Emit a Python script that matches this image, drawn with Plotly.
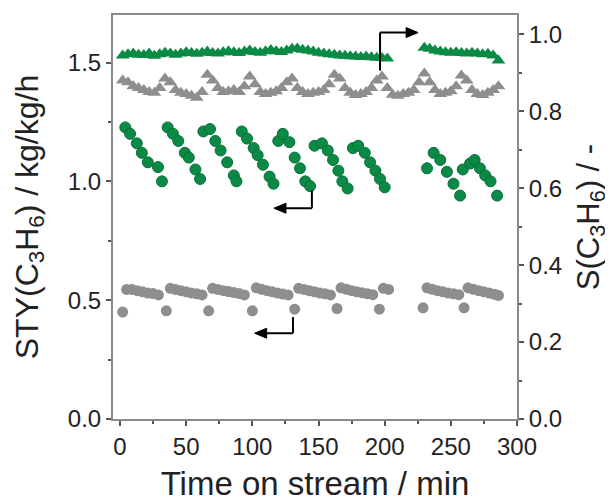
import plotly.graph_objects as go

# ---- data -------------------------------------------------------------
# S(C3H6), green triangles (right axis)
sg_t1 = [2, 6, 10, 14, 18, 22, 26, 30, 34, 38, 42, 46, 50, 54, 58, 62, 66, 70, 74, 78,
         82, 86, 90, 94, 98, 102, 106, 110, 114, 118, 122, 126, 130, 134, 138, 142, 146,
         150, 154, 158, 162, 166, 170, 174, 178, 182, 186, 190, 194, 198, 202]
sg_v1 = [0.945, 0.948, 0.950, 0.947, 0.946, 0.950, 0.944, 0.948, 0.952, 0.950,
         0.947, 0.950, 0.953, 0.951, 0.949, 0.952, 0.955, 0.951, 0.950, 0.953,
         0.956, 0.953, 0.951, 0.955, 0.958, 0.954, 0.952, 0.956, 0.959, 0.956,
         0.954, 0.958, 0.962, 0.963, 0.960, 0.958, 0.955, 0.952, 0.950, 0.948,
         0.947, 0.945, 0.944, 0.943, 0.942, 0.941, 0.942, 0.940, 0.939, 0.938, 0.937]
sg_t2 = [230, 234, 238, 242, 246, 250, 254, 258, 262, 266, 270, 274, 278, 282, 286]
sg_v2 = [0.965, 0.962, 0.958, 0.955, 0.953, 0.952, 0.953, 0.951, 0.950, 0.952,
         0.950, 0.948, 0.949, 0.945, 0.932]

# S(C3H6), grey triangles (right axis)
sr_t = [2, 6, 10, 14, 18, 22, 26, 30, 34, 38, 42, 46, 50, 54, 58, 62, 66, 70, 74, 78,
        82, 86, 90, 94, 98, 102, 106, 110, 114, 118, 122, 126, 130, 134, 138, 142, 146,
        150, 154, 158, 162, 166, 170, 174, 178, 182, 186, 190, 194, 198, 202, 206, 210,
        214, 218, 222, 226, 230, 234, 238, 242, 246, 250, 254, 258, 262, 266, 270, 274,
        278, 282, 286]
sr_v = [0.880, 0.875, 0.865, 0.860, 0.855, 0.850, 0.848, 0.860, 0.885, 0.875,
        0.855, 0.848, 0.845, 0.840, 0.835, 0.850, 0.895, 0.880, 0.860, 0.850,
        0.852, 0.855, 0.850, 0.865, 0.890, 0.870, 0.850, 0.845, 0.848, 0.852,
        0.860, 0.875, 0.885, 0.860, 0.850, 0.845, 0.848, 0.850, 0.855, 0.870,
        0.895, 0.885, 0.860, 0.848, 0.842, 0.845, 0.850, 0.860, 0.880, 0.890,
        0.860, 0.843, 0.840, 0.845, 0.848, 0.855, 0.875, 0.898, 0.875, 0.855,
        0.845, 0.848, 0.852, 0.865, 0.893, 0.880, 0.855, 0.845, 0.842, 0.848,
        0.855, 0.865]

# STY(C3H6), green circles (left axis)
yg_t = [4, 7.6, 12.7, 16.5, 21, 28.7, 31.7,
        36, 40, 44, 49, 52, 57, 60.5,
        63, 68, 72, 76, 81, 86, 88,
        92, 96, 101, 104, 108, 113, 116,
        119.6, 123, 128, 132, 136, 140, 143.6,
        147, 152.6, 157, 161, 165, 168, 172,
        176, 180, 185, 189, 193, 196.5, 200,
        232, 237, 242, 247, 252, 257,
        259, 264.5, 268, 272, 276, 280, 285]
yg_v = [1.227, 1.20, 1.16, 1.12, 1.08, 1.06, 1.00,
        1.227, 1.20, 1.17, 1.12, 1.10, 1.05, 1.01,
        1.21, 1.22, 1.17, 1.13, 1.08, 1.025, 1.00,
        1.21, 1.18, 1.14, 1.11, 1.07, 1.02, 0.99,
        1.17, 1.20, 1.165, 1.10, 1.055, 1.00, 0.98,
        1.15, 1.16, 1.13, 1.09, 1.045, 1.00, 0.97,
        1.14, 1.15, 1.12, 1.08, 1.045, 1.01, 0.975,
        1.055, 1.12, 1.09, 1.04, 0.99, 0.94,
        1.05, 1.075, 1.09, 1.055, 1.025, 1.00, 0.94]

# STY(C3H6), grey circles (left axis)
yr_t = [2, 5, 9, 13, 17, 21, 25, 29,
        35, 38, 42, 46, 50, 54, 58, 62,
        67, 70, 74, 78, 82, 86, 90, 94,
        100, 103, 107, 111, 115, 119, 123, 127,
        132, 135, 139, 143, 147, 151, 155, 159,
        164, 167, 171, 175, 179, 183, 187, 191,
        196, 199, 203,
        229, 232, 236, 240, 244, 248, 252, 256,
        260, 263, 267, 271, 275, 279, 283, 286]
yr_v = [0.450, 0.545, 0.545, 0.540, 0.535, 0.530, 0.528, 0.522,
        0.455, 0.550, 0.545, 0.540, 0.535, 0.530, 0.527, 0.522,
        0.455, 0.550, 0.545, 0.540, 0.536, 0.532, 0.528, 0.522,
        0.455, 0.552, 0.546, 0.540, 0.535, 0.530, 0.526, 0.522,
        0.462, 0.550, 0.545, 0.540, 0.535, 0.530, 0.527, 0.522,
        0.465, 0.552, 0.546, 0.540, 0.535, 0.531, 0.527, 0.523,
        0.462, 0.550, 0.545,
        0.468, 0.552, 0.546, 0.540, 0.535, 0.530, 0.527, 0.523,
        0.468, 0.552, 0.546, 0.540, 0.535, 0.530, 0.525, 0.520]

# L-shaped pointer arrows: (x corner, y start, y corner, x head) in left-axis units
arrows = [(196.5, 1.466, 1.626, 223.0),
          (145.0, 0.962, 0.887, 118.6),
          (130.7, 0.429, 0.361, 104.0)]

GREEN = '#0a8a45'
GREY = '#8e8e8e'
FONT = 'Liberation Sans, Arial, sans-serif'

fig = go.Figure()

fig.add_trace(go.Scatter(x=yr_t, y=yr_v, mode='markers',
                         marker=dict(symbol='circle', size=11, color=GREY)))
fig.add_trace(go.Scatter(x=yg_t, y=yg_v, mode='markers',
                         marker=dict(symbol='circle', size=11, color=GREEN,
                                     line=dict(color='#06703a', width=1))))
fig.add_trace(go.Scatter(x=sr_t, y=sr_v, mode='markers', yaxis='y2',
                         marker=dict(symbol='triangle-up', size=12, color=GREY)))
fig.add_trace(go.Scatter(x=sg_t1 + sg_t2, y=sg_v1 + sg_v2, mode='markers', yaxis='y2',
                         marker=dict(symbol='triangle-up', size=12, color=GREEN)))

shapes = []
for xc, y0, y1, xh in arrows:
    shapes.append(dict(type='line', xref='x', yref='y', x0=xc, x1=xc, y0=y0, y1=y1,
                       line=dict(color='black', width=2)))
    shapes.append(dict(type='line', xref='x', yref='y', x0=xc, x1=xh, y0=y1, y1=y1,
                       line=dict(color='black', width=2)))
    d = 1 if xh > xc else -1
    shapes.append(dict(type='path', xref='x', yref='y', xsizemode='pixel',
                       ysizemode='pixel', xanchor=xh, yanchor=y1,
                       path=f'M{3 * d},0 L{-9 * d},5 L{-9 * d},-5 Z',
                       fillcolor='black', line=dict(color='black', width=1)))

axis_common = dict(showline=True, linecolor='#8a8a8a', linewidth=2, showgrid=False,
                   zeroline=False, ticks='outside', ticklen=5, tickwidth=1.5,
                   automargin=False,
                   tickcolor='#555', tickfont=dict(family=FONT, size=24, color='#222'))

# the page body adds an 8px offset, so the figure is 8px smaller and shifted
fig.update_layout(
    width=605, height=494,
    margin=dict(l=105, r=96, t=7, b=83),
    plot_bgcolor='white', paper_bgcolor='white',
    showlegend=False,
    shapes=shapes,
    xaxis=dict(range=[-5.3, 300], tickvals=[0, 50, 100, 150, 200, 250, 300],
               mirror=True,
               minor=dict(ticks='outside', ticklen=3, dtick=25, tick0=0, tickcolor='#555'),
               title=dict(text='Time on stream / min', standoff=24,
                          font=dict(family=FONT, size=33, color='#222')),
               **axis_common),
    yaxis=dict(range=[0, 1.7], tickvals=[0, 0.5, 1.0, 1.5], tickformat='.1f',
               minor=dict(ticks='outside', ticklen=3, dtick=0.25, tick0=0, tickcolor='#555'),
               title=dict(text='STY(C<sub>3</sub>H<sub>6</sub>) / kg/kg/h', standoff=20,
                          font=dict(family=FONT, size=32, color='#222')),
               **axis_common),
    yaxis2=dict(range=[0, 1.05], overlaying='y', side='right', anchor='x',
                tickvals=[0, 0.2, 0.4, 0.6, 0.8, 1.0], tickformat='.1f',
                minor=dict(ticks='outside', ticklen=3, dtick=0.1, tick0=0, tickcolor='#555'),
                title=dict(text='S(C<sub>3</sub>H<sub>6</sub>) / -', standoff=16,
                           font=dict(family=FONT, size=31, color='#222')),
                **axis_common),
)

fig.write_html("out.html")
